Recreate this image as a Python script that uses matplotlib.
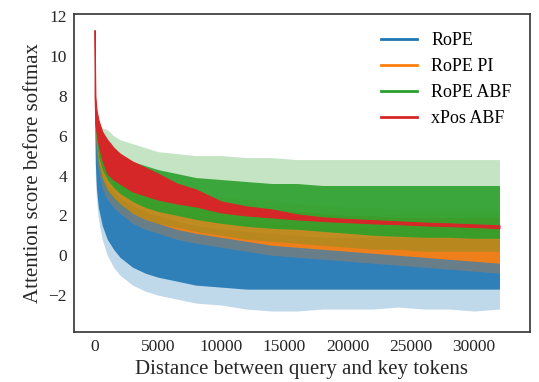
import matplotlib
matplotlib.use("Agg")
import matplotlib.pyplot as plt
from matplotlib.lines import Line2D

plt.rcParams['font.family'] = ['Liberation Serif', 'DejaVu Serif']

# sample positions along the distance axis (tokens)
dist = [0, 60, 150, 300, 600, 1000, 1500, 2000, 3000, 4000, 5000, 6500, 8000,
        10000, 12000, 14000, 16000, 18000, 20000, 22000, 24000, 26000, 28000,
        30000, 32000]

# RoPE: spike envelope (lo/hi) and dense core (lo/hi)
rope_spike_lo = [7.0, 4.0, 2.8, 1.8, 0.8, 0.0, -0.6, -1.0, -1.5, -1.8, -2.0, -2.2, -2.4,
                 -2.5, -2.7, -2.8, -2.8, -2.7, -2.7, -2.7, -2.6, -2.7, -2.7, -2.8, -2.7]
rope_core_lo = [7.5, 4.6, 3.3, 2.4, 1.5, 0.8, 0.3, -0.1, -0.6, -0.9, -1.1, -1.3, -1.5,
                -1.6, -1.7, -1.7, -1.7, -1.7, -1.7, -1.7, -1.7, -1.7, -1.7, -1.7, -1.7]
rope_core_hi = [11.3, 7.0, 6.0, 5.0, 4.2, 3.6, 3.2, 2.9, 2.5, 2.2, 2.0, 1.7, 1.5,
                1.3, 1.2, 1.1, 1.0, 0.9, 0.9, 0.9, 0.9, 0.9, 0.9, 0.9, 0.8]
rope_spike_hi = [11.3, 7.5, 6.5, 5.8, 5.0, 4.4, 3.9, 3.6, 3.1, 2.8, 2.5, 2.2, 2.0,
                 1.8, 1.7, 1.6, 1.5, 1.4, 1.4, 1.4, 1.4, 1.4, 1.4, 1.4, 1.3]

# RoPE PI
pi_spike_lo = [8.0, 6.0, 5.0, 4.2, 3.4, 2.8, 2.4, 2.1, 1.6, 1.3, 1.1, 0.8, 0.6,
               0.4, 0.2, 0.0, -0.1, -0.2, -0.3, -0.4, -0.5, -0.6, -0.7, -0.8, -0.9]
pi_core_lo = [8.5, 6.5, 5.5, 4.7, 3.9, 3.3, 2.9, 2.6, 2.1, 1.8, 1.6, 1.3, 1.1,
              0.9, 0.7, 0.5, 0.4, 0.3, 0.2, 0.1, 0.0, -0.1, -0.2, -0.3, -0.4]
pi_core_hi = [11.3, 7.2, 6.5, 5.8, 5.1, 4.6, 4.2, 3.9, 3.5, 3.3, 3.1, 2.9, 2.7,
              2.5, 2.4, 2.3, 2.2, 2.1, 2.0, 2.0, 1.9, 1.9, 1.9, 1.9, 1.9]
pi_spike_hi = [11.3, 7.6, 6.9, 6.2, 5.5, 5.0, 4.6, 4.3, 3.9, 3.7, 3.5, 3.3, 3.1,
               2.9, 2.8, 2.7, 2.6, 2.5, 2.4, 2.4, 2.3, 2.3, 2.3, 2.3, 2.3]

# RoPE ABF
abf_spike_lo = [7.4, 5.9, 5.2, 4.4, 3.7, 3.2, 2.8, 2.5, 2.1, 1.8, 1.6, 1.4, 1.2,
                1.0, 0.8, 0.7, 0.6, 0.5, 0.4, 0.3, 0.3, 0.2, 0.2, 0.2, 0.2]
abf_core_lo = [8.0, 6.5, 5.8, 5.0, 4.3, 3.8, 3.4, 3.1, 2.7, 2.4, 2.2, 2.0, 1.8,
               1.6, 1.45, 1.35, 1.3, 1.2, 1.1, 1.0, 0.95, 0.9, 0.9, 0.85, 0.85]
abf_core_hi = [11.3, 7.2, 6.7, 6.2, 5.8, 5.5, 5.2, 5.0, 4.7, 4.5, 4.3, 4.1, 3.9,
               3.8, 3.7, 3.6, 3.6, 3.5, 3.5, 3.5, 3.5, 3.5, 3.5, 3.5, 3.5]
abf_spike_hi = [11.3, 7.6, 7.0, 6.6, 6.4, 6.3, 6.0, 5.8, 5.6, 5.4, 5.2, 5.1, 5.0,
                5.0, 4.9, 4.9, 4.8, 4.8, 4.8, 4.8, 4.8, 4.8, 4.8, 4.8, 4.8]

# xPos ABF (settles into a thin line)
xpos_lo = [8.0, 6.6, 6.2, 5.6, 4.8, 4.1, 3.8, 3.6, 3.2, 3.0, 2.8, 2.6, 2.45,
           2.15, 2.0, 1.9, 1.8, 1.72, 1.66, 1.6, 1.56, 1.5, 1.46, 1.42, 1.36]
xpos_hi = [11.3, 8.0, 7.3, 6.8, 6.2, 5.8, 5.4, 5.1, 4.7, 4.4, 4.1, 3.6, 3.3,
           2.7, 2.45, 2.3, 2.05, 1.9, 1.82, 1.76, 1.7, 1.64, 1.6, 1.55, 1.5]

labels = ['RoPE', 'RoPE PI', 'RoPE ABF', 'xPos ABF']
colors = ['#1f77b4', '#ff7f0e', '#2ca02c', '#d62728']

fig = plt.figure(figsize=(5.39, 3.82), dpi=100)
ax = fig.add_axes([0.137, 0.131, 0.846, 0.832])

bands = [
    (rope_spike_lo, rope_core_lo, rope_core_hi, rope_spike_hi),
    (pi_spike_lo, pi_core_lo, pi_core_hi, pi_spike_hi),
    (abf_spike_lo, abf_core_lo, abf_core_hi, abf_spike_hi),
]
for (slo, clo, chi, shi), c in zip(bands, colors[:3]):
    ax.fill_between(dist, slo, shi, color=c, alpha=0.28, lw=0)
    ax.fill_between(dist, clo, chi, color=c, alpha=0.9, lw=0)
ax.fill_between(dist, xpos_lo, xpos_hi, color=colors[3], lw=0.8, edgecolor=colors[3])

ax.set_xlim(-1640, 34400)
ax.set_ylim(-3.85, 12.1)
ax.set_xticks([0, 5000, 10000, 15000, 20000, 25000, 30000])
ax.set_yticks([-2, 0, 2, 4, 6, 8, 10, 12])
ax.tick_params(length=0, labelsize=12.5, colors='#262626', pad=5)
for s in ax.spines.values():
    s.set_color('#3a3a3a')
    s.set_linewidth(1.25)

ax.set_xlabel('Distance between query and key tokens', fontsize=15, color='#262626')
ax.set_ylabel('Attention score before softmax', fontsize=15, color='#262626')

handles = [Line2D([], [], color=c, lw=2) for c in colors]
ax.legend(handles, labels, loc='upper right', frameon=False, fontsize=13,
          handlelength=2.0, labelspacing=0.5, borderaxespad=0.6)

fig.savefig('out.png', dpi=100)
